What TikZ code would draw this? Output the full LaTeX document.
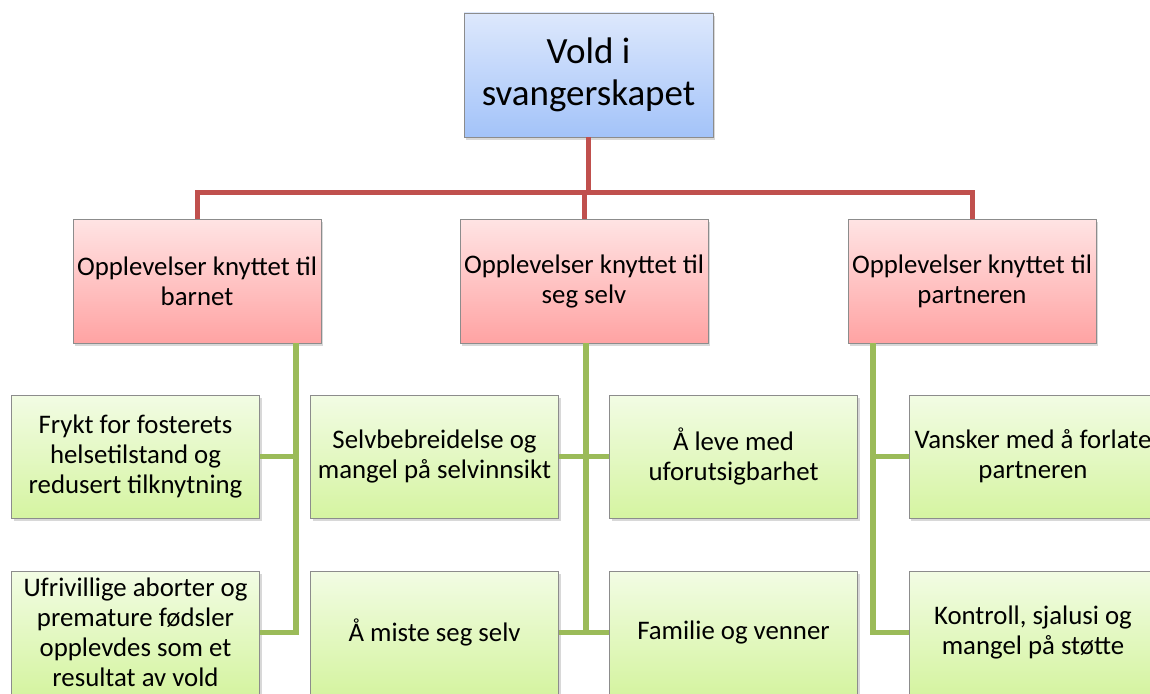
\documentclass[tikz,border=0pt]{standalone}
\usepackage{fontspec}
\setmainfont{Carlito}
\usetikzlibrary{shadows}
\definecolor{redl}{HTML}{C0504D}
\definecolor{greenl}{HTML}{9BBB59}
\definecolor{bluetop}{HTML}{DDE8FC}
\definecolor{bluebot}{HTML}{A3C3F9}
\definecolor{pinktop}{HTML}{FFE4E4}
\definecolor{pinkbot}{HTML}{FFA3A3}
\definecolor{greentop}{HTML}{F2FCE4}
\definecolor{greenbot}{HTML}{D5F4A1}
\begin{document}
\begin{tikzpicture}[x=1pt,y=-1pt,
  box/.style={draw=black!45, line width=0.8pt, minimum width=248pt, minimum height=123pt,
    inner sep=1pt, align=center, font=\fontsize{26.8}{30}\selectfont,
    drop shadow={opacity=0.3, shadow xshift=2pt, shadow yshift=-3pt}},
  topbox/.style={box, top color=bluetop, bottom color=bluebot, minimum width=249pt,
    minimum height=124pt, font=\fontsize{37}{42}\selectfont},
  catbox/.style={box, top color=pinktop, bottom color=pinkbot, minimum height=124pt},
  leafbox/.style={box, top color=greentop, bottom color=greenbot},
  redline/.style={draw=redl, line width=5pt},
  greenline/.style={draw=greenl, line width=5.5pt}]
\useasboundingbox (0,0) rectangle (1150,693);
\fill[white] (0,0) rectangle (1150,693);
\clip (0,0) rectangle (1150,693);

\node[topbox] (top) at (588.5,75) {Vold i\\svangerskapet};

\node[catbox] (p1) at (197,281) {Opplevelser knyttet til\\barnet};
\node[catbox] (p2) at (584,281) {Opplevelser knyttet til\\seg selv};
\node[catbox] (p3) at (972,281) {Opplevelser knyttet til\\partneren};

\node[leafbox] (g1) at (135.5,456.5) {Frykt for fosterets\\helsetilstand og\\redusert tilknytning};
\node[leafbox] (g2) at (135.5,632.5) {Ufrivillige aborter og\\premature fødsler\\opplevdes som et\\resultat av vold};
\node[leafbox] (g3) at (434.5,456.5) {Selvbebreidelse og\\mangel på selvinnsikt};
\node[leafbox] (g4) at (733.5,456.5) {Å leve med\\uforutsigbarhet};
\node[leafbox] (g5) at (434.5,632.5) {Å miste seg selv};
\node[leafbox] (g6) at (733.5,632.5) {Familie og venner};
\node[leafbox] (g7) at (1033,456.5) {Vansker med å forlate\\partneren};
\node[leafbox] (g8) at (1033,632.5) {Kontroll, sjalusi og\\mangel på støtte};

\coordinate (bus) at (588.5,193);
\draw[redline] (top.south) -- (bus);
\draw[redline] (p1.north) -- ++(0,-26) -| (p3.north);
\draw[redline] (p2.north) -- (p2.north |- bus);

\draw[greenline] ([xshift=99pt]p1.south) |- (g1.east);
\draw[greenline] ([xshift=99pt]p1.south) |- (g2.east);
\draw[greenline] ([xshift=2pt]p2.south) |- (g5.east);
\draw[greenline] (g3.east) -- (g4.west);
\draw[greenline] (g5.east) -- (g6.west);
\draw[greenline] ([xshift=-99pt]p3.south) |- (g7.west);
\draw[greenline] ([xshift=-99pt]p3.south) |- (g8.west);
\end{tikzpicture}
\end{document}
